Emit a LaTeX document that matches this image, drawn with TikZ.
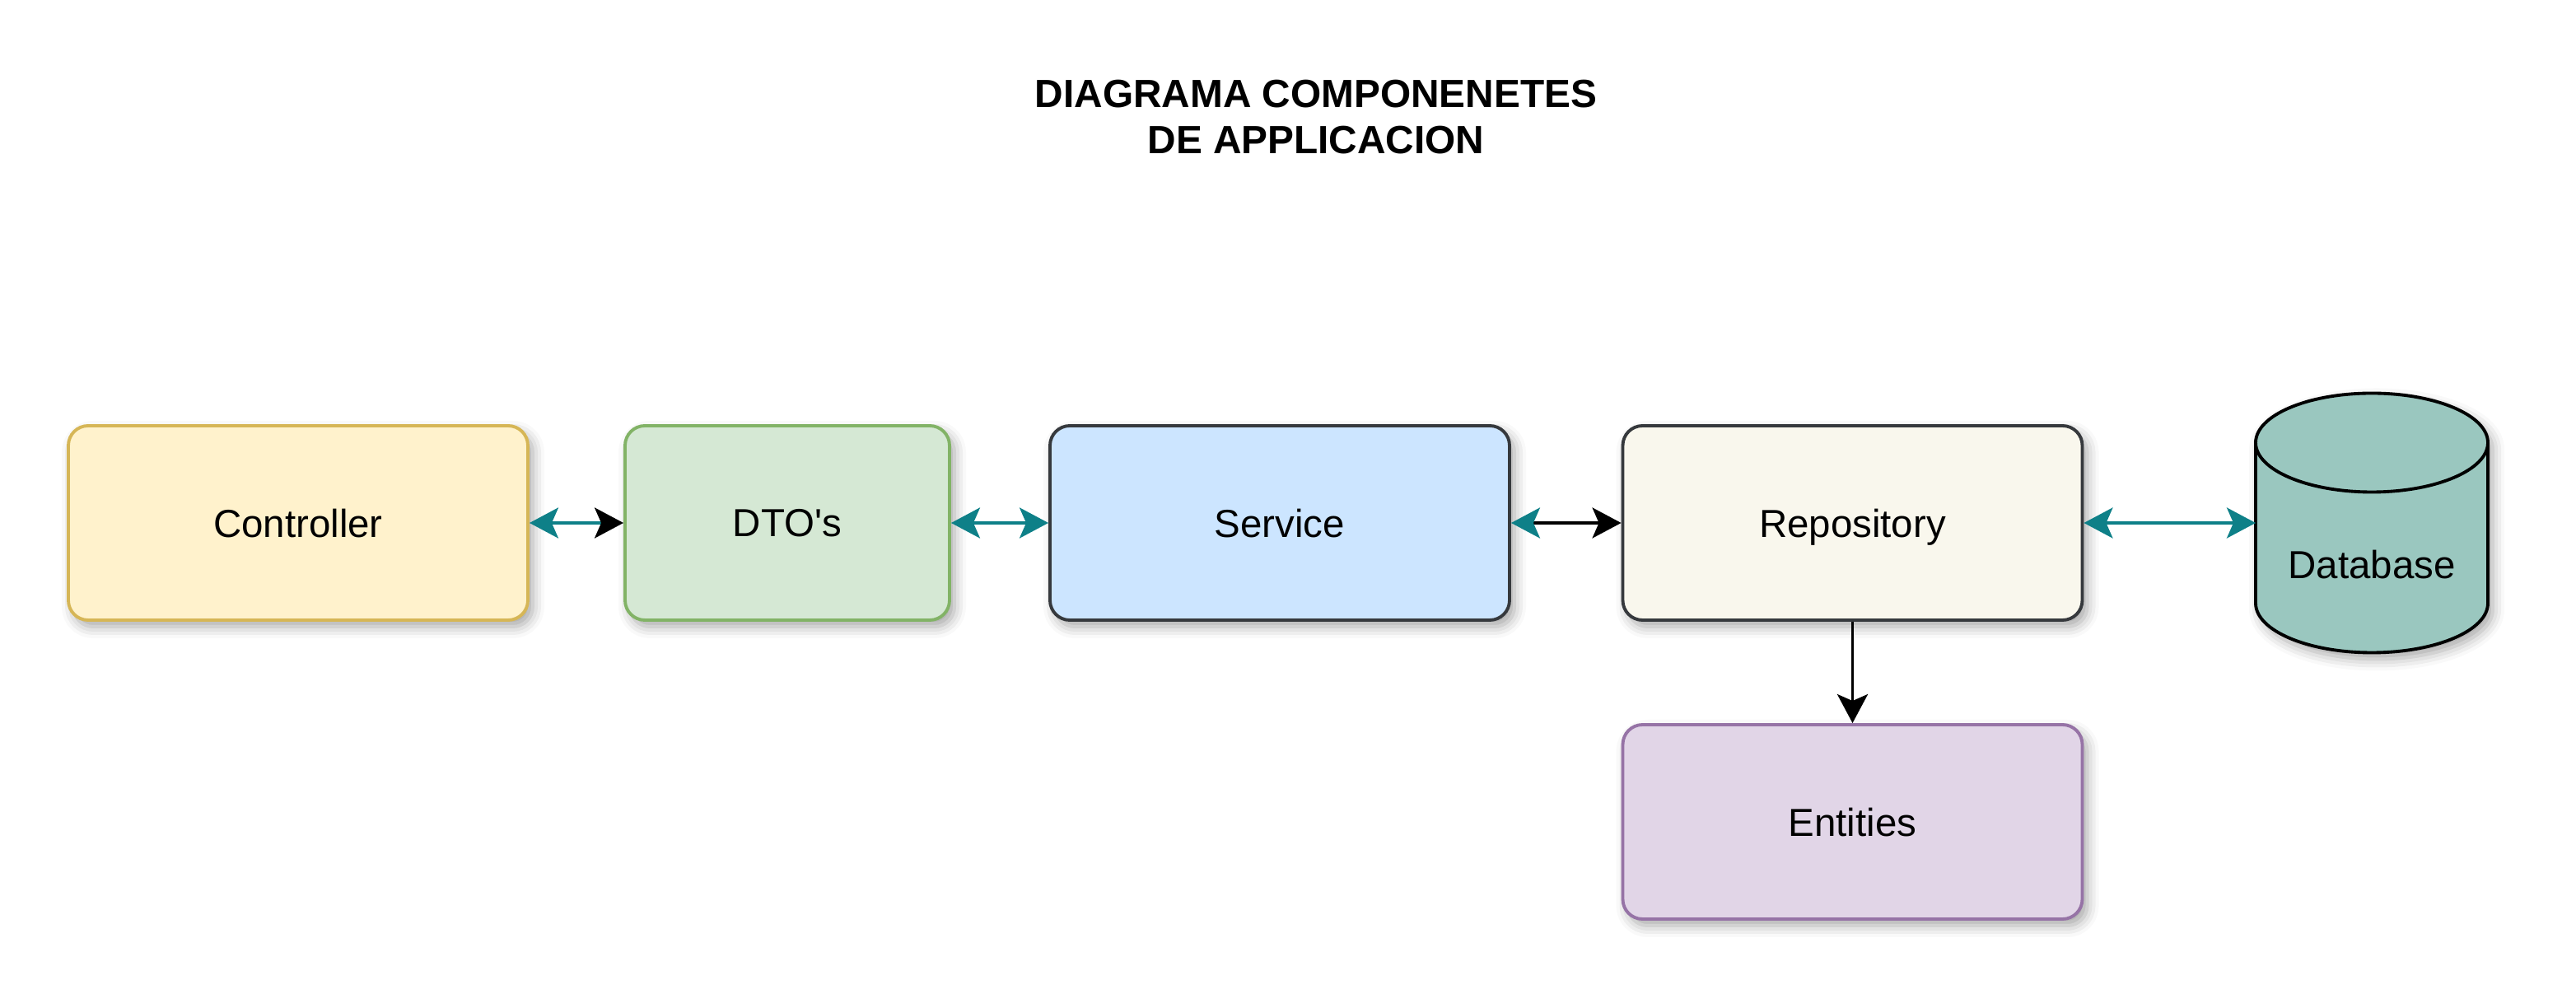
\documentclass[tikz,border=0pt]{standalone}
\usepackage{fontspec}
\setmainfont{Liberation Sans}
\usetikzlibrary{arrows.meta, calc, shadows.blur}

\definecolor{ctrl-fill}{HTML}{FFF2CC}
\definecolor{ctrl-line}{HTML}{D6B656}
\definecolor{dto-fill}{HTML}{D5E8D4}
\definecolor{dto-line}{HTML}{82B366}
\definecolor{serv-fill}{HTML}{CCE5FF}
\definecolor{repo-fill}{HTML}{F9F7ED}
\definecolor{dark-line}{HTML}{36393D}
\definecolor{ent-fill}{HTML}{E1D5E7}
\definecolor{ent-line}{HTML}{9673A6}
\definecolor{db-fill}{HTML}{9AC7BF}
\definecolor{my-teal}{HTML}{0E8088}

\tikzset{
    my-box/.style={
        draw, rounded corners=0.24cm, line width=1.1pt,
        minimum width=5.58cm, minimum height=2.36cm, text depth=0pt,
        font=\fontsize{13.5}{16}\selectfont,
        blur shadow={shadow xshift=0.06cm, shadow yshift=-0.08cm, shadow blur radius=0.14cm, shadow opacity=35}
    },
    mytip/.tip={
        Stealth[length=0.35cm, width=0.37cm, inset=0.08cm]
    },
    my-link/.style={
        line width=1.1pt, draw=#1
    },
}

\begin{document}
\begin{tikzpicture}

        \useasboundingbox (0, 0) rectangle (31.28, 12.24);

        % TITLE ---------------------------------------------------------------------------------------
        \node[align=center, font=\fontsize{13.6}{15.9}\selectfont\bfseries] (TITLE) at (15.98, 10.82)
            {DIAGRAMA COMPONENETES\\DE APPLICACION};

        % COMPONENTS ----------------------------------------------------------------------------------
        \node[my-box, fill=ctrl-fill, draw=ctrl-line]                    (CTRL) at (3.62, 5.89)            {Controller};
        \node[my-box, fill=dto-fill, draw=dto-line, minimum width=3.94cm] (DTO)  at ($(CTRL) + (5.94, 0)$)  {DTO\textquotesingle s};
        \node[my-box, fill=serv-fill, draw=dark-line]                    (SERV) at ($(DTO) + (5.98, 0)$)   {Service};
        \node[my-box, fill=repo-fill, draw=dark-line]                    (REPO) at ($(SERV) + (6.955, 0)$) {Repository};
        \node[my-box, fill=ent-fill, draw=ent-line]                      (ENT)  at ($(REPO) + (0, -3.63)$) {Entities};

        % DATABASE - CYLINDER DRAWN ON AN EMPTY NODE
        \node[minimum width=2.82cm, minimum height=3.15cm, inner sep=0pt, outer sep=0pt] (DB) at ($(REPO) + (6.305, 0)$) {};
        \fill[db-fill, blur shadow={shadow xshift=0.06cm, shadow yshift=-0.08cm, shadow blur radius=0.14cm, shadow opacity=35}]
            ($(DB.north west) + (0, -0.6)$) -- ($(DB.south west) + (0, 0.6)$)
            arc[start angle=180, end angle=360, x radius=1.41cm, y radius=0.6cm]
            -- ($(DB.north east) + (0, -0.6)$)
            arc[start angle=0, end angle=180, x radius=1.41cm, y radius=0.6cm] -- cycle;
        \draw[line width=1.1pt]
            ($(DB.north west) + (0, -0.6)$) -- ($(DB.south west) + (0, 0.6)$)
            arc[start angle=180, end angle=360, x radius=1.41cm, y radius=0.6cm]
            -- ($(DB.north east) + (0, -0.6)$)
            arc[start angle=0, end angle=180, x radius=1.41cm, y radius=0.6cm] -- cycle;
        \draw[line width=1.1pt] ($(DB.north west) + (0, -0.6)$)
            arc[start angle=180, end angle=360, x radius=1.41cm, y radius=0.6cm];
        \node[font=\fontsize{13.5}{16}\selectfont, text depth=0pt] (DBTEXT) at ($(DB) + (0, -0.5)$) {Database};

        % CONNECTIONS ---------------------------------------------------------------------------------
        \draw[my-link=my-teal, {mytip}-{mytip[color=black]}] (CTRL.east) -- (DTO.west);
        \draw[my-link=my-teal, {mytip}-{mytip}]              (DTO.east)  -- (SERV.west);
        \draw[my-link=black, {mytip[color=my-teal]}-{mytip}] (SERV.east) -- (REPO.west);
        \draw[my-link=my-teal, {mytip}-{mytip}]              (REPO.east) -- (DB.west);
        \draw[my-link=black, -{mytip}]                       (REPO.south) -- (ENT.north);

\end{tikzpicture}
\end{document}
